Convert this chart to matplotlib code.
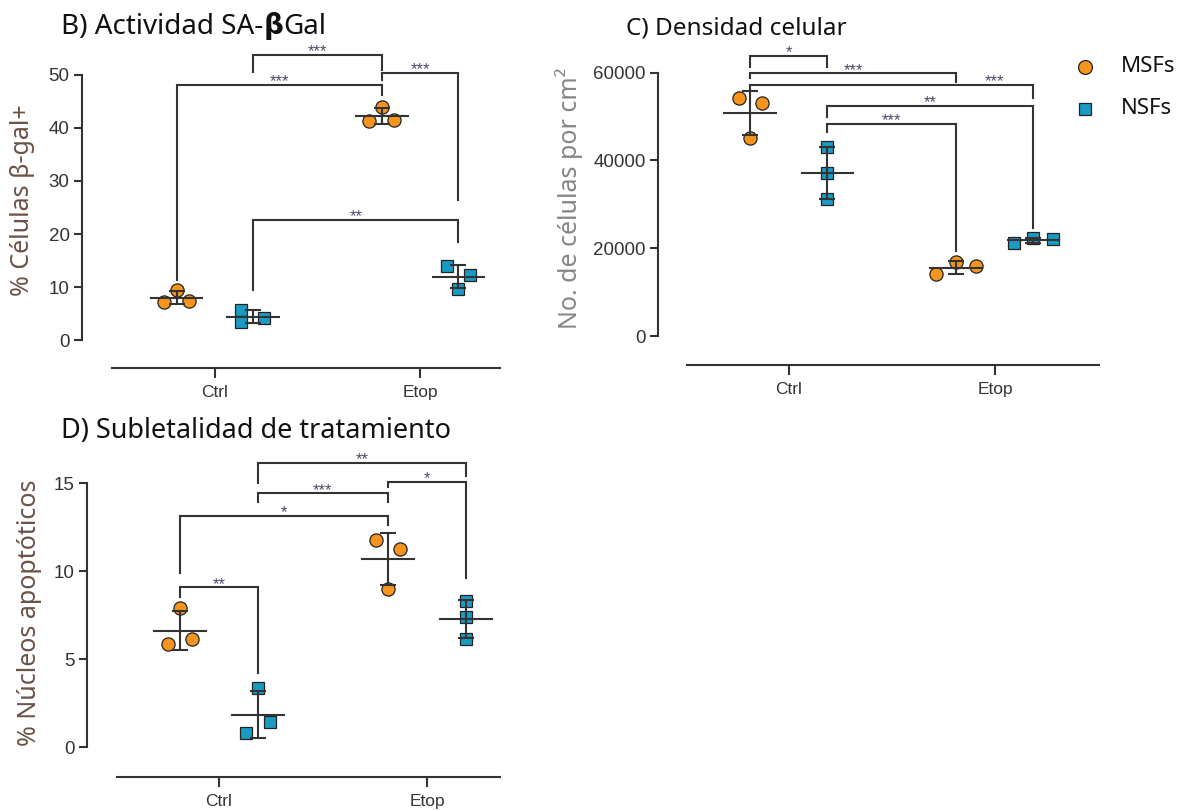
import matplotlib
matplotlib.use("Agg")
import matplotlib.pyplot as plt
import numpy as np

# ---- data ----
groups = ["Ctrl", "Etop"]
series = ["MSFs", "NSFs"]

# panel B: % SA-beta-gal positive cells
b_msf_ctrl = [9.5, 7.2, 7.3]
b_nsf_ctrl = [5.7, 3.4, 4.2]
b_msf_etop = [44.0, 41.3, 41.5]
b_nsf_etop = [14.0, 9.6, 12.3]

# panel C: cells per cm2
c_msf_ctrl = [54300, 53030, 45190]
c_nsf_ctrl = [43000, 37220, 31300]
c_msf_etop = [14060, 16790, 15950]
c_nsf_etop = [21120, 22260, 22100]

# panel D: % apoptotic nuclei
d_msf_ctrl = [7.9, 5.87, 6.13]
d_nsf_ctrl = [3.35, 0.8, 1.42]
d_msf_etop = [11.78, 11.25, 9.0]
d_nsf_etop = [8.31, 7.39, 6.15]

# significance brackets: (group a, group b, top, leg a bottom, leg b bottom, label)
# groups: 0 MSF-Ctrl, 1 NSF-Ctrl, 2 MSF-Etop, 3 NSF-Etop
b_sig = [(0, 2, 48.1, 11.3, 46.2, "***"),
         (1, 2, 53.8, 50.6, 50.9, "***"),
         (2, 3, 50.4, 49.1, 26.4, "***"),
         (1, 3, 22.6, 9.4, 18.5, "**")]
c_sig = [(0, 1, 63810, 61240, 61240, "*"),
         (0, 2, 59860, 58720, 57950, "***"),
         (0, 3, 57200, 56060, 54170, "***"),
         (1, 3, 52480, 49970, 24540, "**"),
         (1, 2, 48310, 46560, 19440, "***")]
d_sig = [(0, 1, 9.09, 8.56, 4.2, "**"),
         (0, 2, 13.16, 9.88, 12.63, "*"),
         (1, 2, 14.43, 13.96, 13.96, "***"),
         (2, 3, 15.09, 14.77, 9.6, "*"),
         (1, 3, 16.17, 15.0, 15.41, "**")]

# ---- style ----
W, H = 1186, 810
ORANGE = "#f7941d"
BLUE = "#1a9bc4"
INK = "#333333"
STAR = "#4a4a6a"
TICKFONT = "Liberation Sans"
TEXTFONT = "Noto Sans"
OFF = 0.187
MEAN_HALF = 0.126

fig = plt.figure(figsize=(W / 100, H / 100), dpi=100)


def px_axes(left, right, bottom, top):
    ax = fig.add_axes([left / W, 1 - bottom / H, (right - left) / W, (bottom - top) / H])
    ax.px = (left, right, bottom, top)
    return ax


def draw_panel(ax, data, jitter_px, spacing, sig, xlim, ylim, yticks, ylabel,
               ylab_color, spine_px, ylab_px, label_x=None):
    ax.set_xlim(*xlim)
    ax.set_ylim(*ylim)
    centers = [0 - OFF, 0 + OFF, 1 - OFF, 1 + OFF]
    colors = [ORANGE, BLUE, ORANGE, BLUE]
    markers = ["o", "s", "o", "s"]
    for i, vals in enumerate(data):
        vals = np.array(vals, dtype=float)
        xs = centers[i] + np.array(jitter_px[i]) / spacing
        ax.plot(xs, vals, ls="none", marker=markers[i], ms=9.5 if markers[i] == "o" else 9,
                mfc=colors[i], mec="#222222", mew=0.9, zorder=3, clip_on=False)
        m = vals.mean()
        sd = vals.std(ddof=1)
        ax.plot([centers[i] - MEAN_HALF, centers[i] + MEAN_HALF], [m, m],
                color=INK, lw=1.5, zorder=4, clip_on=False)
        ax.errorbar([centers[i]], [m], yerr=[sd], fmt="none", ecolor=INK,
                    elinewidth=1.5, capsize=5.5, capthick=1.5, zorder=4, clip_on=False)
    for k, (a, b, top, ya, yb, lab) in enumerate(sig):
        xa, xb = centers[a], centers[b]
        ax.plot([xa, xa, xb, xb], [ya, top, top, yb], color=INK, lw=1.5,
                zorder=2, clip_on=False, solid_joinstyle="miter")
        lx = (xa + xb) / 2
        if label_x is not None and k in label_x:
            lx = label_x[k]
        ax.annotate(lab, (lx, top), xytext=(0, -1.0), textcoords="offset points",
                    ha="center", va="baseline", fontsize=12, color=STAR,
                    family=TICKFONT, annotation_clip=False)
    for s in ["top", "right"]:
        ax.spines[s].set_visible(False)
    ax.spines["left"].set_position(("outward", spine_px * 0.72))
    ax.spines["left"].set_bounds(yticks[0], yticks[-1])
    for s in ["left", "bottom"]:
        ax.spines[s].set_linewidth(1.5)
        ax.spines[s].set_color(INK)
    ax.set_yticks(yticks)
    ax.set_xticks([0, 1])
    ax.set_xticklabels(groups)
    ax.tick_params(axis="y", length=6, width=1.5, color=INK, labelsize=13.5,
                   labelcolor=INK, pad=3)
    ax.tick_params(axis="x", length=7, width=1.5, color=INK, labelsize=12.5,
                   labelcolor=INK, pad=5)
    for t in ax.get_xticklabels() + ax.get_yticklabels():
        t.set_family(TICKFONT)
    ax.set_ylabel(ylabel, fontsize=18, color=ylab_color, family=TEXTFONT, va="center")
    left, right, bottom, top = ax.px
    ax.yaxis.set_label_coords((ylab_px[0] - left) / (right - left),
                              (bottom - ylab_px[1]) / (bottom - top))
    ax.patch.set_alpha(0)


# panel B
axB = px_axes(112, 500, 368, 40)
draw_panel(axB, [b_msf_ctrl, b_nsf_ctrl, b_msf_etop, b_nsf_etop],
           [[0, -13, 12], [-12, -12, 11], [0, -13, 12], [-11, 0, 12]], 205, b_sig,
           (-0.502, 1.39), (-5.28, 56.6), [0, 10, 20, 30, 40, 50],
           "% Células β-gal+", "#6b5246", 30, (23, 200))

# panel C
axC = px_axes(687, 1099, 365, 40)
draw_panel(axC, [c_msf_ctrl, c_nsf_ctrl, c_msf_etop, c_nsf_etop],
           [[-11, 12, 0], [0, 0, 0], [-20, 0, 20], [-19, 0, 20]], 206, c_sig,
           (-0.495, 1.505), (-6608, 67450), [0, 20000, 40000, 60000],
           "No. de células por cm²", "#8a8585", 29, (569, 198),
           label_x={2: 1.0})

# panel D
axD = px_axes(117, 500, 777, 440)
draw_panel(axD, [d_msf_ctrl, d_nsf_ctrl, d_msf_etop, d_nsf_etop],
           [[0, -12, 12], [0, -12, 12], [-12, 12, 0], [0, 0, 0]], 208, d_sig,
           (-0.49, 1.351), (-1.69, 17.46), [0, 5, 10, 15],
           "% Núcleos apoptóticos", "#6b5246", 30, (30, 613))

# ---- titles (beta in bold) ----
renderer = fig.canvas.get_renderer()


def title(x, y, parts, size):
    for txt, weight, fam in parts:
        t = fig.text(x / W, 1 - y / H, txt, fontsize=size, family=fam,
                     fontweight=weight, va="baseline", ha="left", color="#111111")
        x = t.get_window_extent(renderer).x1


title(61, 34, [("B) Actividad SA-", "normal", TEXTFONT),
               ("β", "bold", "DejaVu Sans"),
               ("Gal", "normal", TEXTFONT)], 20)
title(626, 34, [("C) Densidad celular", "normal", TEXTFONT)], 17.5)
title(61, 438, [("D) Subletalidad de tratamiento", "normal", TEXTFONT)], 19.5)

# ---- legend ----
for yy, mk, col, lab in [(67, "o", ORANGE, series[0]), (109, "s", BLUE, series[1])]:
    fig.add_artist(plt.Line2D([1085 / W], [1 - yy / H], transform=fig.transFigure,
                              marker=mk, ms=10 if mk == "o" else 9, mfc=col,
                              mec="#222222", mew=0.9, ls="none"))
    fig.text(1121 / W, 1 - yy / H, lab, fontsize=16, family=TEXTFONT, va="center",
             ha="left", color="#111111")

fig.savefig("out.png", dpi=100)
